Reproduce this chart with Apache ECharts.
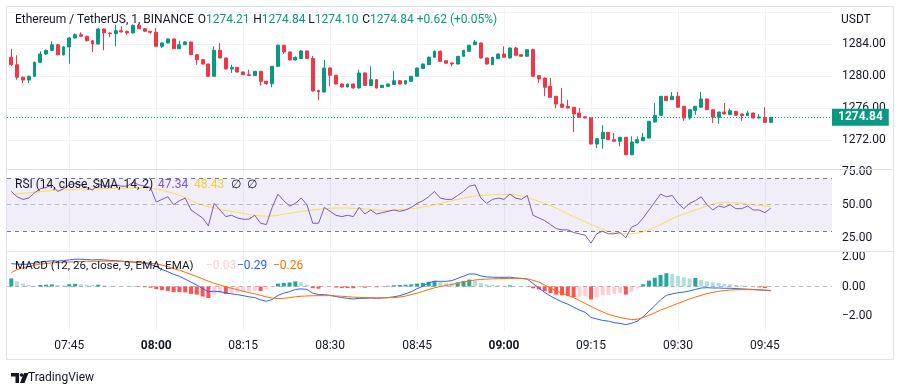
<!DOCTYPE html>
<html><head><meta charset="utf-8">
<script src="https://cdn.jsdelivr.net/npm/echarts@6/dist/echarts.min.js"></script>
<style>html,body{margin:0;padding:0;background:#fff}#c{width:900px;height:388px}</style>
</head><body><div id="c"></div>
<script>
// ---- data (1-minute candles, 07:35 .. 09:46) ----
const startMinute = 7 * 60 + 35;
const tickLabels = ['07:45','08:00','08:15','08:30','08:45','09:00','09:15','09:30','09:45'];
const boldTicks = ['08:00','09:00'];
const priceTicks = [1272, 1276, 1280, 1284];

const opens = [1282.34,1281.41,1279.84,1279.50,1279.96,1281.71,1282.75,1283.21,1283.91,1282.66,
1283.63,1284.75,1285.16,1284.96,1284.41,1284.00,1285.88,1285.38,1285.29,1285.66,
1285.56,1285.38,1286.34,1285.91,1285.59,1285.46,1283.71,1284.13,1284.63,1283.41,
1283.91,1284.25,1282.66,1282.04,1281.50,1279.96,1283.21,1282.25,1280.88,1281.09,
1280.50,1280.16,1280.06,1280.59,1279.34,1279.04,1281.21,1283.84,1283.00,1282.00,
1282.19,1283.13,1282.19,1278.19,1278.00,1281.00,1280.09,1279.00,1278.63,1279.00,
1278.50,1280.38,1278.81,1279.54,1278.56,1278.71,1278.94,1279.41,1279.00,1279.34,
1279.96,1280.94,1281.41,1282.34,1283.09,1281.91,1281.63,1281.50,1282.46,1283.09,
1283.91,1284.13,1282.25,1281.41,1282.16,1282.75,1282.25,1283.50,1282.66,1282.46,
1283.29,1280.04,1279.75,1278.71,1277.46,1276.50,1276.21,1276.09,1275.38,1274.91,
1274.75,1271.50,1272.16,1272.96,1272.04,1271.84,1272.34,1270.16,1271.63,1271.91,
1272.25,1274.25,1275.09,1277.46,1277.04,1277.46,1276.21,1274.75,1275.71,1276.09,
1277.13,1275.79,1274.84,1275.50,1275.16,1275.59,1275.25,1275.04,1275.38,1274.75,
1274.84,1274.21];
const closes = [1281.41,1279.84,1279.50,1279.96,1281.71,1282.75,1283.21,1283.91,1282.66,1283.63,
1284.75,1285.16,1284.96,1284.41,1284.00,1285.88,1285.38,1285.29,1285.66,1285.50,
1285.38,1286.34,1285.91,1285.59,1285.46,1283.71,1284.13,1284.63,1283.41,1283.91,
1284.25,1282.66,1282.04,1281.50,1279.96,1283.21,1282.25,1280.88,1281.09,1280.50,
1280.16,1280.06,1280.59,1279.34,1279.04,1281.21,1283.84,1283.00,1282.00,1282.34,
1283.13,1282.19,1278.13,1278.00,1281.00,1280.09,1279.00,1278.63,1279.00,1278.50,
1280.38,1278.81,1279.54,1278.50,1278.84,1279.00,1279.41,1279.00,1279.41,1279.96,
1281.00,1281.50,1282.34,1283.09,1281.84,1281.59,1281.50,1282.46,1283.21,1283.84,
1284.25,1282.25,1281.50,1282.34,1282.75,1282.34,1283.50,1282.59,1282.46,1283.29,
1279.96,1279.63,1278.59,1277.34,1276.50,1276.09,1276.00,1275.25,1274.84,1274.75,
1271.50,1272.16,1272.96,1272.04,1271.84,1272.34,1270.16,1271.75,1272.04,1272.34,
1274.34,1275.09,1277.46,1276.91,1277.46,1276.09,1274.75,1275.79,1276.21,1277.13,
1275.79,1274.84,1275.50,1275.25,1275.66,1275.09,1275.04,1275.38,1274.75,1274.88,
1274.21,1274.84];
const highs = [1283.41,1282.59,1279.94,1280.06,1281.81,1283.09,1283.31,1284.34,1284.00,1283.75,
1284.88,1285.31,1285.46,1285.06,1284.50,1286.00,1285.94,1285.44,1286.41,1286.21,
1285.69,1286.44,1286.50,1286.00,1285.63,1286.00,1284.19,1284.69,1284.69,1284.41,
1284.38,1284.31,1282.75,1282.13,1281.56,1283.71,1284.13,1282.31,1281.41,1281.13,
1280.56,1280.79,1280.63,1280.63,1279.38,1281.25,1283.94,1283.88,1283.06,1282.44,
1283.25,1283.19,1282.50,1278.25,1282.00,1281.06,1280.13,1279.06,1279.06,1279.06,
1280.79,1280.44,1281.21,1279.63,1278.88,1279.06,1280.59,1279.50,1279.50,1280.00,
1281.06,1281.56,1282.44,1283.19,1283.19,1281.94,1281.69,1282.50,1283.25,1283.88,
1284.50,1284.19,1282.31,1282.38,1282.81,1283.71,1283.56,1283.63,1282.75,1283.38,
1283.41,1280.06,1279.81,1279.75,1277.50,1278.50,1277.04,1276.13,1276.00,1274.94,
1274.81,1272.25,1273.84,1273.00,1272.88,1272.38,1272.38,1272.46,1272.46,1272.88,
1274.38,1276.63,1277.50,1277.50,1278.00,1278.00,1276.25,1275.81,1276.25,1278.00,
1277.16,1275.81,1275.54,1276.63,1275.91,1275.63,1275.29,1275.66,1275.41,1275.25,
1276.09,1274.84];
const lows = [1281.25,1279.54,1279.13,1279.13,1279.88,1281.63,1282.63,1283.13,1282.56,1282.56,
1281.54,1284.69,1284.88,1284.31,1283.00,1283.94,1283.21,1284.84,1283.71,1285.44,
1285.16,1285.31,1285.88,1285.50,1285.29,1283.63,1283.50,1284.06,1283.38,1283.38,
1283.88,1282.63,1281.41,1281.44,1279.94,1279.94,1282.19,1280.81,1280.38,1280.44,
1280.13,1280.00,1280.00,1278.79,1278.91,1278.59,1281.19,1282.75,1281.94,1281.94,
1282.13,1282.13,1278.06,1277.00,1277.94,1278.71,1278.94,1278.56,1278.56,1278.44,
1278.44,1278.75,1278.75,1278.44,1278.50,1278.69,1278.88,1278.94,1278.94,1279.31,
1279.94,1280.91,1281.38,1282.31,1281.81,1281.56,1281.21,1281.44,1282.44,1283.06,
1283.88,1282.19,1281.44,1281.38,1282.13,1282.31,1282.19,1282.56,1282.44,1282.44,
1279.94,1279.13,1277.46,1277.31,1276.00,1276.06,1275.96,1273.00,1274.81,1274.71,
1271.44,1271.00,1270.91,1272.00,1271.81,1271.21,1270.13,1270.09,1271.59,1271.88,
1272.21,1274.21,1275.06,1276.88,1277.00,1276.06,1274.41,1274.54,1275.16,1276.06,
1275.75,1274.13,1274.04,1275.21,1275.13,1275.06,1274.41,1275.00,1274.71,1274.71,
1274.13,1274.10];

const rsi = [60,56,54,55,59,62,63,65,60,62,
65,66,65,63,61,66,64,64,65,64,
64,67,65,64,63,52,54,56,50,53,
55,46,43,40,34,51,46,41,42,40,
39,39,42,36,35,48,58,53,49,51,
55,50,36,36,48,45,42,41,42,41,
48,43,46,43,44,45,46,45,46,48,
51,53,56,60,55,54,54,57,60,64,
65,55,51,54,55,54,58,55,54,57,
42,40,38,35,32,31,31,29,28,27,
21,28,30,28,28,29,25,33,35,40,
46,52,58,56,57,51,47,51,53,56,
50,46,49,48,50,47,47,49,46,46,
44,47.34];
const rsiMa = [57.5,58,58.5,59,59.5,59.9,60.3,60.6,61,61.2,
61.3,61.5,61.7,61.8,62,62.1,62.2,62.3,62.4,62.5,
62.6,62.7,62.8,62.7,62.5,61.8,61,59.8,58.5,57,
55.5,53.3,51,49.7,48.5,47.5,46.5,45.7,45,44.2,
43.5,42.7,42,41.6,41.2,41.5,42,42.8,43.5,44.2,
45,45.5,46,46.5,47,47.3,47.5,47.5,47.5,47.3,
47,46.8,46.5,46,45.5,45.7,46,46.2,46.5,47,
47.5,48.2,49,50,51,52,53,54,55,55.8,
56.5,57,57.3,57.5,57.6,57.6,57.6,57.6,56.5,55.3,
54,52.5,51,49.3,47.5,45.2,43,41,39,37,
35,33.2,31.5,30,28.8,28.2,27.9,28,28.5,29.5,
31,33,35,37.2,39.5,41.3,43,44.5,46,47.5,
49,50.3,51.5,51.7,51.5,51.3,51,50.5,50,49.5,
49,48.43];

const macd = [1.55,1.52,1.5,1.52,1.58,1.65,1.7,1.74,1.72,1.76,
1.8,1.85,1.85,1.83,1.8,1.82,1.8,1.77,1.75,1.72,
1.68,1.66,1.62,1.57,1.5,1.35,1.15,1.0,0.82,0.7,
0.5,0.3,0.1,-0.15,-0.35,-0.32,-0.35,-0.43,-0.5,-0.55,
-0.62,-0.7,-0.75,-0.9,-1.0,-0.88,-0.6,-0.45,-0.35,-0.2,
-0.16,-0.2,-0.45,-0.55,-0.55,-0.6,-0.68,-0.75,-0.8,-0.85,
-0.8,-0.8,-0.78,-0.8,-0.78,-0.75,-0.7,-0.62,-0.5,-0.35,
-0.15,0.02,0.25,0.36,0.35,0.35,0.4,0.55,0.7,0.85,
0.85,0.72,0.65,0.63,0.62,0.62,0.63,0.58,0.55,0.5,
0.2,-0.1,-0.4,-0.65,-0.85,-1.05,-1.2,-1.4,-1.6,-1.75,
-2.1,-2.2,-2.3,-2.35,-2.45,-2.5,-2.58,-2.5,-2.35,-2.05,
-1.67,-1.3,-0.9,-0.6,-0.5,-0.42,-0.38,-0.3,-0.2,-0.1,
-0.08,-0.1,-0.1,-0.12,-0.12,-0.14,-0.16,-0.18,-0.2,-0.23,
-0.26,-0.29];
const signal = [0.95,1.15,1.27,1.35,1.45,1.52,1.56,1.6,1.62,1.65,
1.66,1.68,1.7,1.71,1.71,1.71,1.72,1.72,1.71,1.7,
1.68,1.66,1.64,1.62,1.58,1.54,1.45,1.35,1.22,1.1,
0.97,0.82,0.68,0.52,0.36,0.22,0.1,-0.02,-0.12,-0.22,
-0.32,-0.42,-0.5,-0.6,-0.7,-0.78,-0.82,-0.8,-0.75,-0.7,
-0.66,-0.64,-0.63,-0.62,-0.62,-0.62,-0.64,-0.66,-0.69,-0.72,
-0.74,-0.75,-0.76,-0.77,-0.77,-0.76,-0.75,-0.72,-0.65,-0.55,
-0.45,-0.33,-0.2,-0.09,0,0.07,0.15,0.22,0.3,0.38,
0.44,0.48,0.5,0.52,0.53,0.54,0.55,0.55,0.54,0.52,
0.42,0.3,0.1,-0.1,-0.3,-0.45,-0.6,-0.75,-0.95,-1.15,
-1.35,-1.55,-1.72,-1.88,-2,-2.1,-2.18,-2.24,-2.22,-2.1,
-1.95,-1.78,-1.6,-1.45,-1.3,-1.15,-1,-0.85,-0.72,-0.6,
-0.48,-0.4,-0.33,-0.28,-0.24,-0.22,-0.21,-0.21,-0.22,-0.23,
-0.24,-0.26];
const hist = [0.55,0.35,0.2,0.12,0.05,0.1,0.12,0.14,0.1,0.08,
0.15,0.18,0.15,0.12,0.1,0.12,0.08,0.05,0.04,0.02,
0.01,0.02,-0.03,-0.05,-0.08,-0.18,-0.25,-0.3,-0.38,-0.38,
-0.4,-0.5,-0.55,-0.68,-0.78,-0.55,-0.45,-0.5,-0.45,-0.4,
-0.38,-0.33,-0.28,-0.3,-0.2,-0.05,0.2,0.25,0.28,0.35,
0.3,0.12,-0.12,-0.15,-0.05,-0.03,-0.07,-0.1,-0.1,-0.12,
-0.06,-0.08,-0.04,-0.05,0.02,0.05,0.08,0.1,0.12,0.15,
0.2,0.25,0.32,0.38,0.3,0.22,0.2,0.28,0.38,0.47,
0.4,0.25,0.15,0.12,0.1,0.05,0.08,0.03,0.02,0.02,
-0.12,-0.2,-0.32,-0.45,-0.55,-0.6,-0.65,-0.72,-0.7,-0.65,
-0.88,-0.72,-0.6,-0.58,-0.5,-0.45,-0.55,-0.35,-0.1,0.15,
0.4,0.6,0.78,0.9,0.85,0.72,0.62,0.55,0.58,0.45,
0.35,0.28,0.24,0.18,0.15,0.1,0.08,0.05,0.02,-0.06,
-0.1,-0.03];

const headerTitle = 'Ethereum / TetherUS, 1, BINANCE';
const ohlcLabels = [['O','1274.21'],['H','1274.84'],['L','1274.10'],['C','1274.84']];
const changeText = '+0.62 (+0.05%)';
const rsiTitle = 'RSI (14, close, SMA, 14, 2)';
const rsiValues = ['47.34','48.43'];
const macdTitle = 'MACD (12, 26, close, 9, EMA, EMA)';
const macdValues = ['\u22120.03','\u22120.29','\u22120.26'];
const lastPrice = 1274.84;

// ---- styling ----
const FONT = 'Roboto, "Liberation Sans", sans-serif';
const UP = '#089981', DOWN = '#F23645', TXT = '#131722';
const GRIDC = '#F0F3FA', SEP = '#E0E3EB';
const XMIN = -0.742, XMAX = 141.57;
const PL = 7, PR = 68;

const candleData = opens.map((o, i) => [i, o, closes[i], lows[i], highs[i]]);
const histData = hist.map((v, i) => {
  const prev = i > 0 ? hist[i - 1] : v;
  let c;
  if (v >= 0) c = v >= prev ? '#26A69A' : '#B2DFDB';
  else c = v <= prev ? '#FF5252' : '#FFCDD2';
  return { value: [i, v], itemStyle: { color: c } };
});
const pair = arr => arr.map((v, i) => [i, v]);
function fmtTime(v) { const m = startMinute + v; const h = Math.floor(m / 60), mm = m % 60; return (h < 10 ? '0' : '') + h + ':' + (mm < 10 ? '0' : '') + mm; }
const fmt2 = v => (v < 0 ? '\u2212' : '') + Math.abs(v).toFixed(2);

function text(x, y, t, fill, size, weight) {
  return { type: 'text', x: x, y: y, z: 100, silent: true,
    style: { text: t, fill: fill, font: (weight || 'normal') + ' ' + size + 'px ' + FONT, textVerticalAlign: 'middle', verticalAlign: 'middle' } };
}
const HS = 12;
const graphics = [
  { type: 'rect', z: 90, silent: true, shape: { x: 6.5, y: 6.5, width: 887, height: 353 }, style: { fill: 'none', stroke: SEP, lineWidth: 1 } },
  { type: 'line', z: 90, silent: true, shape: { x1: 7, y1: 169.5, x2: 893, y2: 169.5 }, style: { stroke: SEP, lineWidth: 1 } },
  { type: 'line', z: 90, silent: true, shape: { x1: 7, y1: 251.5, x2: 893, y2: 251.5 }, style: { stroke: SEP, lineWidth: 1 } },
  text(15, 20, headerTitle, TXT, HS),
  text(841, 20, 'USDT', TXT, 12),
  text(15, 185, rsiTitle, TXT, 12),
  text(158, 185, rsiValues[0], '#7E57C2', 12),
  text(194, 185, rsiValues[1], '#F2CF3A', 12),
  text(231, 185, '\u2205', TXT, 12),
  text(247, 185, '\u2205', TXT, 12),
  text(15, 266, macdTitle, TXT, 11.6),
  text(206, 266, macdValues[0], '#FFCDD2', 12),
  text(237, 266, macdValues[1], '#2962FF', 12),
  text(273, 266, macdValues[2], '#FF6D00', 12),
  text(28, 378, 'TradingView', TXT, 12),
  { type: 'polygon', z: 100, silent: true, shape: { points: [[11,373],[19,373],[19,383],[15.5,383],[15.5,376.5],[11,376.5]] }, style: { fill: TXT } },
  { type: 'circle', z: 100, silent: true, shape: { cx: 21.5, cy: 375, r: 1.8 }, style: { fill: TXT } },
  { type: 'polygon', z: 100, silent: true, shape: { points: [[24,373],[28.5,373],[24.5,383],[20,383]] }, style: { fill: TXT } }
];
const hdrX = [197.7, 253.3, 308.3, 362.3];
ohlcLabels.forEach((p, k) => {
  graphics.push({ type: 'text', x: hdrX[k], y: 20, z: 100, silent: true, style: {
    text: '{d|' + p[0] + '}{g|' + p[1] + '}', textVerticalAlign: 'middle', verticalAlign: 'middle', font: HS + 'px ' + FONT,
    rich: { d: { fill: TXT, font: HS + 'px ' + FONT }, g: { fill: UP, font: HS + 'px ' + FONT } } } });
});
graphics.push(text(416.7, 20, changeText, UP, HS));

const option = {
  animation: false,
  backgroundColor: '#ffffff',
  graphic: graphics,
  grid: [
    { left: 69.27, right: 135.1, top: 7, bottom: 58 },
    { left: PL, right: PR, top: 12, height: 160 },
    { left: PL, right: PR, top: 171.6, height: 66.2 },
    { left: PL, right: PR, top: 257, height: 59 }
  ],
  xAxis: [
    { gridIndex: 0, type: 'value', min: 10, max: 130, interval: 15,
      axisLine: { show: false }, axisTick: { show: false },
      splitLine: { show: true, lineStyle: { color: GRIDC, width: 1 } },
      axisLabel: { margin: 10, color: TXT, fontSize: 12, fontFamily: FONT,
        formatter: v => { const t = tickLabels[Math.round((v - 10) / 15)] || fmtTime(v); return boldTicks.indexOf(t) >= 0 ? '{b|' + t + '}' : t; },
        rich: { b: { fontWeight: 'bold', fontSize: 12, fontFamily: FONT, color: TXT } } } },
    { gridIndex: 1, type: 'value', min: XMIN, max: XMAX, show: false },
    { gridIndex: 2, type: 'value', min: XMIN, max: XMAX, show: false },
    { gridIndex: 3, type: 'value', min: XMIN, max: XMAX, show: false }
  ],
  yAxis: [
    { gridIndex: 0, type: 'value', show: false },
    { gridIndex: 1, type: 'value', position: 'right', min: 1268, max: 1288, interval: 4,
      axisLine: { show: false }, axisTick: { show: false },
      splitLine: { show: true, lineStyle: { color: ['rgba(0,0,0,0)', GRIDC, GRIDC, GRIDC, GRIDC, GRIDC] } },
      axisLabel: { margin: 10, color: TXT, fontSize: 12, fontFamily: FONT,
        formatter: v => priceTicks.indexOf(v) >= 0 ? v.toFixed(2) : '' } },
    { gridIndex: 2, type: 'value', position: 'right', min: 25, max: 75, interval: 25,
      axisLine: { show: false }, axisTick: { show: false }, splitLine: { show: false },
      axisLabel: { margin: 10, color: TXT, fontSize: 12, fontFamily: FONT, formatter: v => v.toFixed(2) } },
    { gridIndex: 3, type: 'value', position: 'right', min: -2, max: 2, interval: 2,
      axisLine: { show: false }, axisTick: { show: false }, splitLine: { show: false },
      axisLabel: { margin: 10, color: TXT, fontSize: 12, fontFamily: FONT, formatter: fmt2 } }
  ],
  series: [
    { type: 'candlestick', xAxisIndex: 1, yAxisIndex: 1, data: candleData, barWidth: 3.4,
      itemStyle: { color: UP, color0: DOWN, borderColor: UP, borderColor0: DOWN, borderWidth: 1 },
      markLine: { silent: true, symbol: ['none', 'none'], animation: false,
        lineStyle: { color: UP, type: [1, 2], width: 1 },
        label: { show: true, position: 'end', distance: 0, formatter: () => lastPrice.toFixed(2),
          backgroundColor: UP, color: '#fff', fontWeight: 'bold', fontSize: 12, fontFamily: FONT, padding: [3, 6, 2, 6] },
        data: [{ yAxis: lastPrice }] } },
    { type: 'line', xAxisIndex: 2, yAxisIndex: 2, data: pair(rsi), symbol: 'none', clip: false,
      lineStyle: { color: '#7E57C2', width: 1 }, z: 4,
      markArea: { silent: true, itemStyle: { color: 'rgba(126,87,194,0.1)' }, data: [[{ yAxis: 30 }, { yAxis: 70 }]] },
      markLine: { silent: true, symbol: ['none', 'none'], label: { show: false },
        data: [
          { yAxis: 70, lineStyle: { color: '#787B86', type: [4, 4], width: 1 } },
          { yAxis: 50, lineStyle: { color: 'rgba(120,123,134,0.5)', type: [4, 4], width: 1 } },
          { yAxis: 30, lineStyle: { color: '#787B86', type: [4, 4], width: 1 } }
        ] } },
    { type: 'line', xAxisIndex: 2, yAxisIndex: 2, data: pair(rsiMa), symbol: 'none', clip: false,
      lineStyle: { color: '#F9E04E', width: 1 }, z: 3 },
    { type: 'bar', xAxisIndex: 3, yAxisIndex: 3, data: histData, barWidth: 4, clip: false,
      markLine: { silent: true, symbol: ['none', 'none'], label: { show: false },
        lineStyle: { color: 'rgba(120,123,134,0.5)', type: [4, 4], width: 1 }, data: [{ yAxis: 0 }] } },
    { type: 'line', xAxisIndex: 3, yAxisIndex: 3, data: pair(macd), symbol: 'none', clip: false,
      lineStyle: { color: '#2962FF', width: 1 }, z: 4 },
    { type: 'line', xAxisIndex: 3, yAxisIndex: 3, data: pair(signal), symbol: 'none', clip: false,
      lineStyle: { color: '#FF6D00', width: 1 }, z: 5 }
  ]
};
const chart = echarts.init(document.getElementById('c'), null, { renderer: 'canvas', width: 900, height: 388 });
chart.setOption(option);
</script></body></html>
